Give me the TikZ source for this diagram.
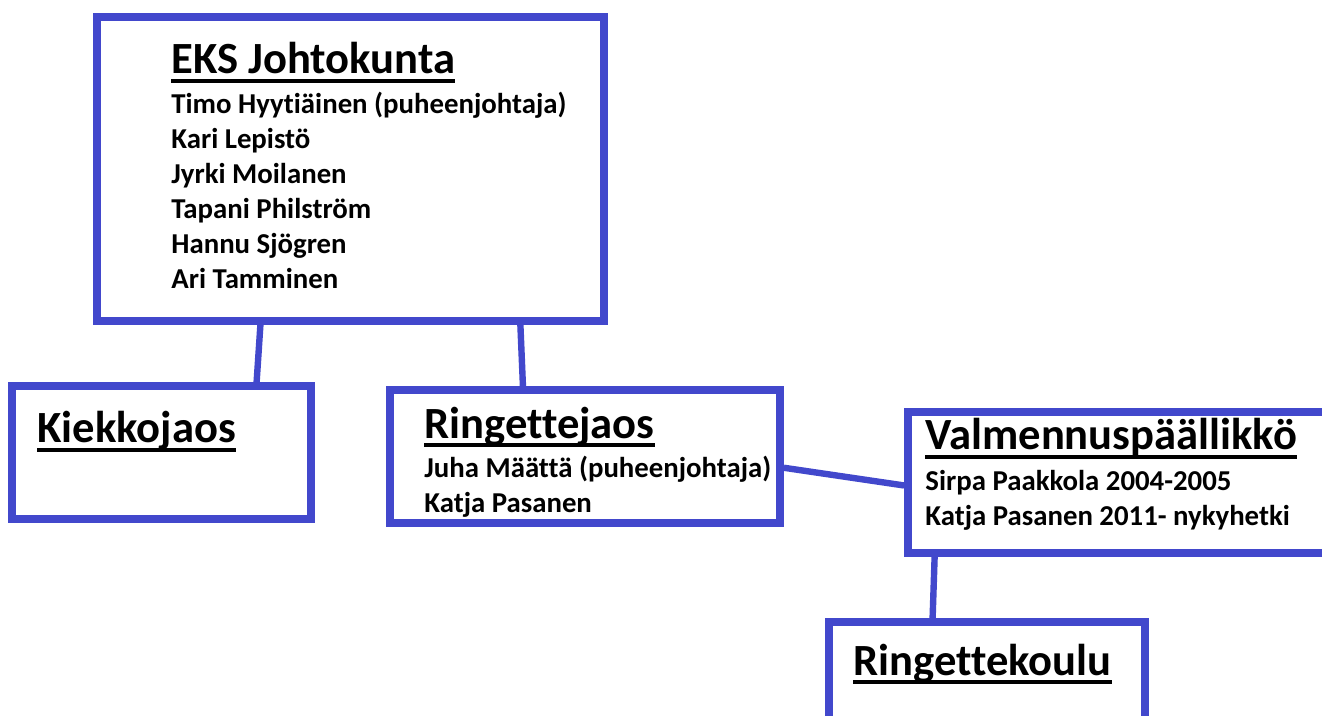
\documentclass[tikz,border=0pt]{standalone}
\usepackage{fontspec}
\setmainfont[Ligatures=NoCommon]{Carlito}
\usetikzlibrary{calc,positioning}
\definecolor{boxblue}{RGB}{66,72,204}

\begin{document}
\begin{tikzpicture}[x=0.5pt,y=-0.5pt]
	\tikzstyle{unit} = [rectangle, draw=boxblue, line width=3.9pt, fill=white, inner sep=0pt]
	\tikzstyle{title} = [anchor=base west, inner sep=0pt, font=\bfseries\fontsize{22.3}{26}\selectfont]
	\tikzstyle{member} = [anchor=base west, inner sep=0pt, font=\bfseries\fontsize{14.4}{17}\selectfont]
	\tikzstyle{link} = [draw=boxblue, line width=3.2pt]
	\tikzstyle{uline} = [line width=1.9pt]
	\clip (0,0) rectangle (1322,716);
	\fill [white] (0,0) rectangle (1322,716);
	% boxes
	\node (eks) [unit, minimum width=253.5pt, minimum height=152pt] at (350.5,169) {};
	\node (kiekko) [unit, minimum width=149.5pt, minimum height=66.5pt] at (161.5,452.5) {};
	\node (ringjaos) [unit, minimum width=195pt, minimum height=66.5pt] at (585,456.5) {};
	\node (valm) [unit, minimum width=211pt, minimum height=70.5pt] at (1119,482.5) {};
	\node (koulu) [unit, minimum width=158pt, minimum height=54pt] at (987,676) {};
	% connectors
	\draw [link] ($(eks.south west)!0.325!(eks.south east)$) -- ($(kiekko.north west)!0.81!(kiekko.north east)$);
	\draw [link] ($(eks.south west)!0.83!(eks.south east)$) -- ($(ringjaos.north west)!0.344!(ringjaos.north east)$);
	\draw [link] ($(ringjaos.north east)!0.58!(ringjaos.south east)$) -- ($(valm.north west)!0.52!(valm.south west)$);
	\draw [link] ($(valm.south west)!0.071!(valm.south east)$) -- ($(koulu.north west)!0.332!(koulu.north east)$);
	% texts
	\node (eksTitle) [title] at (171,74) {EKS Johtokunta};
	\foreach \who [count=\i from 0] in {Timo Hyytiäinen (puheenjohtaja), Kari Lepistö,
		Jyrki Moilanen, Tapani Philström, Hannu Sjögren, Ari Tamminen}
		\node (eksMember\i) [member] at (171,114+35*\i) {\who};
	\node (kiekkoTitle) [title] at (37,443) {Kiekkojaos};
	\node (ringjaosTitle) [title] at (424,438) {Ringettejaos};
	\node (ringjaosMember0) [member] at (424,477) {Juha Määttä (puheenjohtaja)};
	\node (ringjaosMember1) [member] at (424,512) {Katja Pasanen};
	\node (valmTitle) [title] at (925,450) {Valmennuspäällikkö};
	\node (valmMember0) [member] at (925,490) {Sirpa Paakkola 2004-2005};
	\node (valmMember1) [member] at (925,525) {Katja Pasanen 2011- nykyhetki};
	\node (kouluTitle) [title] at (853,675) {Ringettekoulu};
	% underlines
	\foreach \t in {eksTitle, kiekkoTitle, ringjaosTitle, valmTitle, kouluTitle}
		\draw [uline] ([yshift=-3.6pt]\t.base west) -- ([yshift=-3.6pt]\t.base east);
\end{tikzpicture}
\end{document}
